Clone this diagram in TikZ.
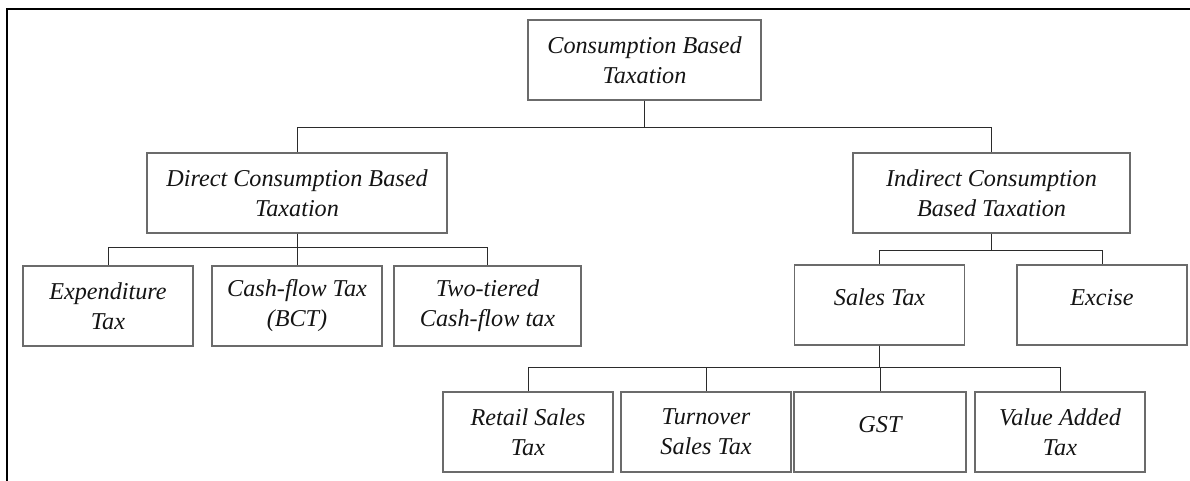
\documentclass[tikz,border=0pt]{standalone}
\usepackage{fontspec}
\setmainfont{Liberation Serif}
\usepackage{tikz}
\usetikzlibrary{positioning}

\definecolor{boxline}{HTML}{6B6B6B}
\definecolor{linkline}{HTML}{2B2B2B}
\definecolor{inktext}{HTML}{141414}

\begin{document}
\begin{tikzpicture}[x=1pt,y=-1pt,on grid,node font=\itshape\fontsize{24.2}{30}\selectfont,
	drop/.style={to path={-- ++(0,#1) -| (\tikztotarget)}}]
	\tikzstyle{box}=[draw=boxline,line width=1.4pt,text=inktext,align=center,inner sep=0pt,minimum width=170pt,minimum height=80pt]
	\tikzstyle{single}=[text depth=16pt]
	\tikzstyle{link}=[draw=linkline,line width=1pt]
	
	\useasboundingbox (0,0) rectangle (1190,481);
	\draw[line width=2.6pt] (7,481) |- (1190,9);
	
	\node[box,minimum width=233pt] (root) at (644.5,60) {Consumption Based\\Taxation};
	\node[box,minimum width=300pt] (direct)   [below left=133pt and 347.5pt of root]  {Direct Consumption Based\\Taxation};
	\node[box,minimum width=277pt] (indirect) [below right=133pt and 347pt of root]  {Indirect Consumption\\Based Taxation};
	
	\node[box]                     (expend) [below left=113pt and 189pt of direct]    {Expenditure\\Tax};
	\node[box]                     (cash)   [below=113pt of direct]                   {Cash-flow Tax\\(BCT)};
	\node[box,minimum width=187pt] (two)    [below right=113pt and 190.5pt of direct] {Two-tiered\\Cash-flow tax};
	
	\node[box,single]              (sales)  [below left=112pt and 112pt of indirect]    {Sales Tax};
	\node[box,single]              (excise) [below right=112pt and 110.5pt of indirect] {Excise};
	
	\node[box]                     (turnover) [below left=127pt and 173.5pt of sales] {Turnover\\Sales Tax};
	\node[box]                     (retail)   [left=178pt of turnover]                {Retail Sales\\Tax};
	\node[box,single,minimum width=172pt] (gst) [right=174pt of turnover]            {GST};
	\node[box]                     (vat)      [right=180pt of gst]                    {Value Added\\Tax};
	
	\path[link]
	(root.south) edge [drop=27] (direct.north)
	(root.south) edge [drop=27] (indirect.north)
	(direct.south) edge [drop=14] (expend.north)
	(direct.south) edge (cash.north)
	(direct.south) edge [drop=14] (two.north)
	(indirect.south) edge [drop=17] (sales.north)
	(indirect.south) edge [drop=17] (excise.north)
	(sales.south) edge [drop=22] (retail.north)
	(sales.south) edge [drop=22] (turnover.north)
	(sales.south) edge [drop=22] (gst.north)
	(sales.south) edge [drop=22] (vat.north);
\end{tikzpicture}
\end{document}
